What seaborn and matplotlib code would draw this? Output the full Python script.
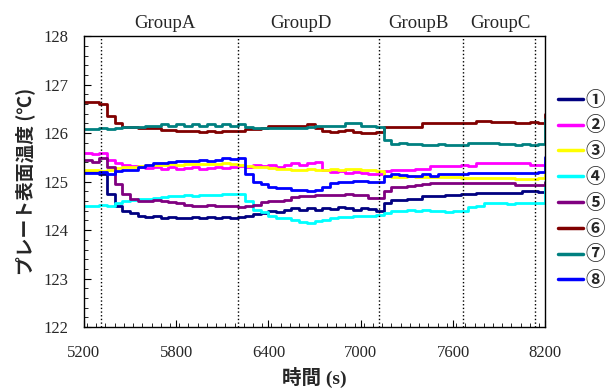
import numpy as np
import pandas as pd
import matplotlib
matplotlib.use('Agg')
import matplotlib.pyplot as plt
from matplotlib.lines import Line2D
from matplotlib.ticker import MultipleLocator
import seaborn as sns

# サンプリング時刻 (50 s 間隔)
time_s = np.arange(5200, 8201, 50)

s1 = [125.2, 125.2, 125.15, 124.75, 124.5, 124.4, 124.35, 124.3, 124.28, 124.3,
      124.25, 124.27, 124.25, 124.25, 124.27, 124.25, 124.27, 124.25, 124.27, 124.25,
      124.28, 124.3, 124.33, 124.35, 124.4, 124.38, 124.42, 124.45, 124.42, 124.45,
      124.42, 124.45, 124.43, 124.47, 124.45, 124.42, 124.45, 124.43, 124.4, 124.55,
      124.62, 124.62, 124.65, 124.65, 124.7, 124.7, 124.7, 124.72, 124.72, 124.75,
      124.75, 124.77, 124.77, 124.77, 124.77, 124.77, 124.77, 124.8, 124.8, 124.78,
      124.95]
s2 = [125.6, 125.58, 125.6, 125.45, 125.38, 125.35, 125.32, 125.3, 125.28, 125.3,
      125.27, 125.3, 125.27, 125.28, 125.3, 125.27, 125.28, 125.3, 125.28, 125.3,
      125.33, 125.3, 125.35, 125.33, 125.35, 125.3, 125.35, 125.38, 125.35, 125.38,
      125.4, 125.25, 125.2, 125.22, 125.17, 125.2, 125.17, 125.15, 125.15, 125.22,
      125.25, 125.25, 125.25, 125.27, 125.27, 125.33, 125.33, 125.33, 125.33, 125.35,
      125.33, 125.38, 125.38, 125.38, 125.38, 125.38, 125.38, 125.38, 125.35, 125.35,
      125.4]
s3 = [125.25, 125.25, 125.22, 125.25, 125.28, 125.3, 125.3, 125.33, 125.35, 125.35,
      125.35, 125.37, 125.35, 125.37, 125.37, 125.37, 125.37, 125.37, 125.38, 125.37,
      125.35, 125.32, 125.3, 125.3, 125.28, 125.27, 125.27, 125.25, 125.25, 125.27,
      125.25, 125.25, 125.27, 125.25, 125.27, 125.27, 125.25, 125.25, 125.22, 125.12,
      125.1, 125.1, 125.12, 125.1, 125.1, 125.1, 125.1, 125.1, 125.1, 125.08,
      125.07, 125.07, 125.07, 125.07, 125.07, 125.07, 125.05, 125.05, 125.05, 125.07,
      125.3]
s4 = [124.5, 124.5, 124.52, 124.5, 124.55, 124.6, 124.62, 124.65, 124.65, 124.67,
      124.68, 124.7, 124.7, 124.72, 124.7, 124.72, 124.72, 124.73, 124.75, 124.75,
      124.75, 124.6, 124.42, 124.38, 124.3, 124.25, 124.25, 124.2, 124.17, 124.15,
      124.18, 124.2, 124.25, 124.27, 124.27, 124.3, 124.3, 124.3, 124.32, 124.35,
      124.4, 124.4, 124.42, 124.4, 124.42, 124.4, 124.4, 124.38, 124.4, 124.4,
      124.48, 124.5, 124.55, 124.55, 124.55, 124.53, 124.55, 124.55, 124.55, 124.55,
      125.0]
s5 = [125.45, 125.4, 125.48, 125.3, 124.95, 124.75, 124.65, 124.6, 124.6, 124.62,
      124.6, 124.58, 124.55, 124.52, 124.5, 124.5, 124.52, 124.5, 124.5, 124.5,
      124.48, 124.5, 124.52, 124.58, 124.6, 124.6, 124.62, 124.68, 124.7, 124.7,
      124.72, 124.72, 124.72, 124.72, 124.75, 124.72, 124.72, 124.67, 124.67, 124.8,
      124.88, 124.9, 124.92, 124.93, 124.95, 124.98, 124.98, 124.98, 124.98, 124.98,
      124.98, 124.98, 124.98, 124.98, 124.98, 124.98, 124.93, 124.93, 124.93, 124.93,
      125.0]
s6 = [126.65, 126.65, 126.6, 126.35, 126.2, 126.12, 126.12, 126.1, 126.1, 126.1,
      126.07, 126.07, 126.05, 126.05, 126.05, 126.03, 126.05, 126.03, 126.05, 126.05,
      126.05, 126.08, 126.08, 126.1, 126.15, 126.15, 126.15, 126.15, 126.15, 126.18,
      126.1, 126.05, 126.03, 126.05, 126.07, 126.03, 126.0, 126.0, 126.03, 126.13,
      126.13, 126.13, 126.13, 126.13, 126.2, 126.2, 126.2, 126.2, 126.2, 126.2,
      126.2, 126.25, 126.25, 126.22, 126.22, 126.22, 126.2, 126.2, 126.22, 126.2,
      126.4]
s7 = [126.08, 126.08, 126.1, 126.08, 126.1, 126.12, 126.12, 126.12, 126.15, 126.15,
      126.18, 126.15, 126.18, 126.15, 126.18, 126.15, 126.18, 126.15, 126.18, 126.15,
      126.18, 126.12, 126.1, 126.1, 126.1, 126.1, 126.1, 126.1, 126.1, 126.12,
      126.15, 126.15, 126.15, 126.15, 126.2, 126.2, 126.15, 126.15, 126.13, 125.85,
      125.78, 125.8, 125.78, 125.78, 125.75, 125.75, 125.77, 125.75, 125.75, 125.75,
      125.8, 125.8, 125.8, 125.8, 125.77, 125.77, 125.75, 125.77, 125.75, 125.77,
      126.3]
s8 = [125.18, 125.18, 125.2, 125.15, 125.22, 125.25, 125.25, 125.3, 125.35, 125.38,
      125.38, 125.4, 125.42, 125.42, 125.43, 125.45, 125.43, 125.45, 125.48, 125.47,
      125.48, 125.15, 125.0, 124.95, 124.9, 124.87, 124.87, 124.82, 124.82, 124.8,
      124.83, 124.9, 124.98, 125.0, 125.0, 125.02, 125.02, 125.0, 125.0, 125.12,
      125.15, 125.13, 125.12, 125.12, 125.15, 125.12, 125.15, 125.15, 125.15, 125.15,
      125.17, 125.17, 125.17, 125.17, 125.17, 125.17, 125.17, 125.17, 125.17, 125.2,
      125.5]

labels = ['①', '②', '③', '④', '⑤', '⑥', '⑦', '⑧']
colors = ['#000080', '#FF00FF', '#FFFF00', '#00FFFF', '#800080', '#800000', '#008080', '#0000FF']
series = [s1, s2, s3, s4, s5, s6, s7, s8]

# グループ境界とラベル
group_lines = [5310, 6200, 7118, 7668, 8135]
group_names = ['GroupA', 'GroupD', 'GroupB', 'GroupC']
group_pos = [5725, 6612, 7377, 7908]
x_ticks = [5200, 5800, 6400, 7000, 7600, 8200]

df = pd.concat([pd.DataFrame({'time': time_s, 'temp': v, 'sensor': lab})
                for lab, v in zip(labels, series)], ignore_index=True)

sns.set_style('ticks')
plt.rcParams['font.family'] = ['Liberation Serif', 'Noto Sans CJK JP', 'DejaVu Sans']

fig, ax = plt.subplots(figsize=(6.12, 3.89), dpi=100)
fig.subplots_adjust(left=0.137, right=0.891, top=0.907, bottom=0.159)

sns.lineplot(data=df, x='time', y='temp', hue='sensor', palette=dict(zip(labels, colors)),
             estimator=None, drawstyle='steps-post', lw=2, legend=False, ax=ax)

for xv in group_lines:
    ax.axvline(xv, color='black', ls=':', lw=1)
for name, xp in zip(group_names, group_pos):
    ax.text(xp, 1.045, name, transform=ax.get_xaxis_transform(), ha='center', va='center',
            fontsize=13.5, family='Liberation Serif')

ax.set_xlim(5200, 8200)
ax.set_ylim(122, 128)
ax.set_xticks(x_ticks)
ax.xaxis.set_minor_locator(MultipleLocator(60))
ax.yaxis.set_major_locator(MultipleLocator(1))
ax.yaxis.set_minor_locator(MultipleLocator(0.2))
ax.tick_params(which='both', direction='in', color='black')
ax.tick_params(which='major', length=5, labelsize=12)
ax.tick_params(axis='x', which='major', pad=13)
ax.tick_params(axis='y', which='major', pad=11)
ax.tick_params(which='minor', length=3)
for sp in ax.spines.values():
    sp.set_color('black')
    sp.set_linewidth(1)

ax.set_xlabel('時間 (s)', fontsize=14, fontweight='bold',
              family=['Liberation Serif', 'Noto Sans CJK JP'], labelpad=4)
ax.set_ylabel('プレート表面温度 (℃)', fontsize=13.5, fontweight='bold',
              family=['Noto Sans CJK JP', 'DejaVu Sans'], labelpad=6)

handles = [Line2D([0], [0], color=c, lw=2.5) for c in colors]
leg = ax.legend(handles, labels, loc='center left', bbox_to_anchor=(1.027, 0.47),
                frameon=False, borderaxespad=0, borderpad=0, handlelength=1.3,
                handletextpad=0.15, labelspacing=0.35,
                prop={'family': ['Noto Sans CJK JP', 'DejaVu Sans'], 'size': 14, 'weight': 'bold'})

plt.savefig('out.png', dpi=100)
